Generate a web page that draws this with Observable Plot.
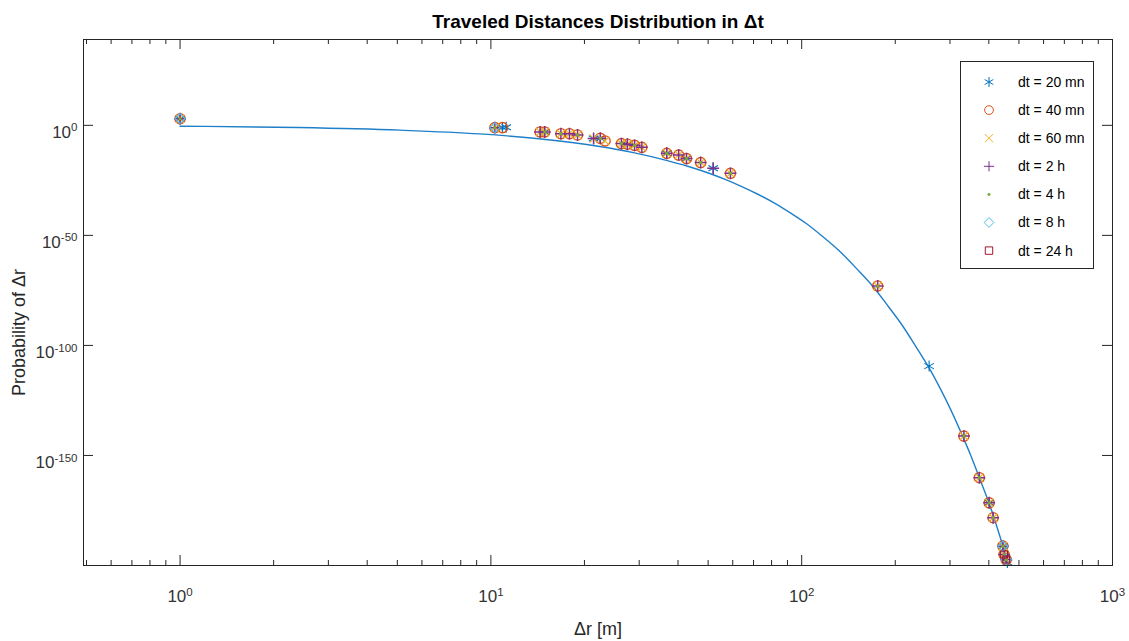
<!DOCTYPE html>
<html>
<head>
<meta charset="utf-8">
<script src="https://cdn.jsdelivr.net/npm/d3@7"></script>
<script src="https://cdn.jsdelivr.net/npm/@observablehq/plot@0.6"></script>
<style>
  html, body { margin: 0; padding: 0; background: #fff; }
  #chart { width: 1129px; height: 641px; }
</style>
</head>
<body>
<div id="chart"></div>
<script>
// ---------- data ----------
const titleText = "Traveled Distances Distribution in Δt";
const xLabel = "Δr [m]";
const yLabel = "Probability of Δr";

const xMajorTicks = [1, 10, 100, 1000];
const xMinorTicks = [0.5, 0.6, 0.7, 0.8, 0.9, 2, 3, 4, 5, 6, 7, 8, 9,
  20, 30, 40, 50, 60, 70, 80, 90, 200, 300, 400, 500, 600, 700, 800, 900];
const yTicks = [0, -50, -100, -150];   // exponents of 10

const seriesNames   = ["dt = 20 mn", "dt = 40 mn", "dt = 60 mn", "dt = 2 h", "dt = 4 h", "dt = 8 h", "dt = 24 h"];
const seriesColors  = ["#0072BD", "#D95319", "#EDB120", "#7E2F8E", "#77AC30", "#4DBEEE", "#A2142F"];
const seriesSymbols = ["asterisk", "circle", "times", "plus", "dot", "diamond2", "square2"];

// Δr [m] and log10(probability) for each series
const dt20mn_r    = [1, 10.9, 11.2, 14.9, 21.4, 22.5, 27.5, 36.8, 42.6, 51.9, 257, 401, 444, 459];
const dt20mn_logP = [3.0, -1.0, -0.9, -3.0, -6.0, -5.9, -8.6, -12.7, -15.1, -19.5, -109.4, -171.5, -191.2, -198.6];

const dt40mn_r    = [1, 10.3, 10.9, 14.4, 14.9, 16.8, 17.9, 19.0, 22.5, 23.3, 26.3, 27.5, 29.0, 30.6, 36.8, 40.2, 42.6, 47.3, 59.0, 175.6, 332.6, 372.9, 401, 413, 444, 448, 455];
const dt40mn_logP = [3.0, -1.05, -1.05, -3.0, -3.0, -3.8, -3.8, -4.4, -5.9, -7.1, -8.3, -8.6, -9.1, -10.0, -12.7, -13.5, -15.1, -16.9, -21.8, -73.0, -141.2, -160.1, -171.5, -178.3, -191.2, -195.0, -197.3];

const dt60mn_r    = [1, 10.3, 14.4, 14.9, 16.8, 17.9, 19.0, 21.4, 23.3, 26.3, 27.5, 29.0, 30.6, 36.8, 40.2, 42.6, 47.3, 59.0, 175.6, 332.6, 372.9, 401, 413, 444, 448, 455];
const dt60mn_logP = [3.0, -1.05, -3.0, -3.0, -3.8, -3.8, -4.4, -6.0, -7.1, -8.3, -8.6, -9.1, -10.0, -12.7, -13.5, -15.1, -16.9, -21.8, -73.0, -141.2, -160.1, -171.5, -178.3, -191.2, -195.0, -197.3];

const dt2h_r      = [1, 10.3, 14.4, 14.9, 16.8, 17.9, 19.0, 21.4, 22.5, 26.3, 27.5, 29.0, 30.6, 36.8, 40.2, 42.6, 47.3, 51.9, 59.0, 175.6, 332.6, 372.9, 401, 413, 444, 448, 455];
const dt2h_logP   = [3.0, -1.05, -3.0, -3.0, -3.8, -3.8, -4.4, -6.0, -5.9, -8.3, -8.6, -9.1, -10.0, -12.7, -13.5, -15.1, -16.9, -19.5, -21.8, -73.0, -141.2, -160.1, -171.5, -178.3, -191.2, -195.0, -197.3];

const dt4h_r      = [1, 10.3, 14.9, 16.8, 19.0, 22.5, 26.3, 29.0, 36.8, 42.6, 47.3, 59.0, 175.6, 332.6, 372.9, 401, 413, 444, 448, 455];
const dt4h_logP   = [3.0, -1.05, -3.0, -3.8, -4.4, -5.9, -8.3, -9.1, -12.7, -15.1, -16.9, -21.8, -73.0, -141.2, -160.1, -171.5, -178.3, -191.2, -195.0, -197.3];

const dt8h_r      = [1, 10.3, 444, 455];
const dt8h_logP   = [3.0, -1.05, -191.2, -197.3];

const dt24h_r     = [448, 455];
const dt24h_logP  = [-195.0, -197.3];

// fitted curve
const fit_r    = [1, 2.4, 5.1, 9.2, 14, 22.4, 29, 36.7, 43, 50.6, 57, 63.1, 72, 81.5, 92, 103.5, 117, 132.5, 150, 169.6, 190, 210, 233, 257, 280, 300, 332.6, 350, 372.9, 401, 425, 444, 463.5];
const fit_logP = [-0.4, -1.0, -2.2, -3.9, -6.0, -9.6, -12.5, -15.9, -18.6, -21.9, -24.7, -27.4, -31.2, -35.2, -39.8, -44.6, -50.6, -57.2, -65.0, -73.2, -82.3, -90.6, -100.5, -110.2, -120.0, -128.5, -142.6, -150.0, -160.1, -171.8, -182.5, -191.2, -199.6];

// ---------- build tables ----------
const seriesR    = [dt20mn_r, dt40mn_r, dt60mn_r, dt2h_r, dt4h_r, dt8h_r, dt24h_r];
const seriesLogP = [dt20mn_logP, dt40mn_logP, dt60mn_logP, dt2h_logP, dt4h_logP, dt8h_logP, dt24h_logP];
const seriesData = seriesR.map((rs, i) => rs.map((r, j) => ({r, logP: seriesLogP[i][j], series: seriesNames[i]})));
const fitData = fit_r.map((r, i) => ({r, logP: fit_logP[i]}));

const W = 1129, H = 641;
const mT = 39, mB = 76, mL = 83, mR = 17;
const pw = W - mL - mR, ph = H - mT - mB;
const axisColor = "#262626";
const font = "'Liberation Sans', Arial, sans-serif";

const symbolMarks = seriesData.map((d, i) => {
  const sym = seriesSymbols[i];
  if (sym === "dot") {
    return Plot.dot(d, {x: "r", y: "logP", r: 1.6, fill: seriesColors[i], stroke: "none"});
  }
  const rr = {asterisk: 5.2, circle: 5.1, times: 3.8, plus: 3.9, diamond2: 4.6, square2: 4.4}[sym];
  const sw = sym === "circle" ? 1.4 : sym === "plus" ? 1.5 : 1.1;
  return Plot.dot(d, {x: "r", y: "logP", symbol: sym, r: rr, stroke: seriesColors[i], strokeWidth: sw, fill: "none"});
});

const chart = Plot.plot({
  width: W, height: H,
  marginTop: mT, marginBottom: mB, marginLeft: mL, marginRight: mR,
  style: {fontFamily: font, background: "#fff"},
  x: {type: "log", domain: [0.489, 1000], axis: null},
  y: {type: "linear", domain: [-200, 39], axis: null},
  marks: [
    // fitted curve
    Plot.line(fitData, {x: "r", y: "logP", stroke: "#1f80c9", strokeWidth: 1.4, curve: "monotone-x", clip: true}),
    // data
    ...symbolMarks,
    // ticks (inside, MATLAB style, box on)
    Plot.ruleX(xMajorTicks, {x: d => d, insetTop: ph - 10, stroke: axisColor}),
    Plot.ruleX(xMajorTicks, {x: d => d, insetBottom: ph - 10, stroke: axisColor}),
    Plot.ruleX(xMinorTicks, {x: d => d, insetTop: ph - 5, stroke: axisColor}),
    Plot.ruleX(xMinorTicks, {x: d => d, insetBottom: ph - 5, stroke: axisColor}),
    Plot.ruleY(yTicks, {y: d => d, insetRight: pw - 10, stroke: axisColor}),
    Plot.ruleY(yTicks, {y: d => d, insetLeft: pw - 10, stroke: axisColor}),
    Plot.frame({stroke: axisColor, strokeWidth: 1}),
    // tick labels
    Plot.text(xMajorTicks, {x: d => d, frameAnchor: "bottom", dy: 31, text: d => "10^" + Math.round(Math.log10(d)),
      fontSize: 17, fill: "#333", textAnchor: "middle", lineAnchor: "middle", ariaDescription: "x-tick-labels"}),
    Plot.text(yTicks, {y: d => d, frameAnchor: "left", dx: -6, dy: 7, text: d => "10^" + d,
      fontSize: 17, fill: "#333", textAnchor: "end", lineAnchor: "middle", ariaDescription: "y-tick-labels"}),
    // titles
    Plot.text([titleText], {frameAnchor: "top", dy: -18, text: d => d, fontSize: 19, fontWeight: "bold",
      fill: "#000", textAnchor: "middle", lineAnchor: "middle"}),
    Plot.text([xLabel], {frameAnchor: "bottom", dy: 64, text: d => d, fontSize: 18, fill: "#262626",
      textAnchor: "middle", lineAnchor: "middle"}),
    Plot.text([yLabel], {frameAnchor: "left", dx: -64, dy: 30, rotate: -90, text: d => d, fontSize: 18,
      fill: "#262626", textAnchor: "middle", lineAnchor: "middle"})
  ]
});

// superscripts for tick labels
d3.select(chart).selectAll('g[aria-description="x-tick-labels"] text, g[aria-description="y-tick-labels"] text').each(function () {
  const t = this.textContent.split("^");
  if (t.length < 2) return;
  this.textContent = t[0];
  d3.select(this).append("tspan").attr("dy", "-0.55em").attr("font-size", "0.68em").text(t[1]);
});

// legend (MATLAB-style box, upper right)
const lg = d3.select(chart).append("g").attr("font-family", font).attr("font-size", 14).attr("text-anchor", "start");
lg.append("rect").attr("x", 960.5).attr("y", 61.5).attr("width", 133).attr("height", 207)
  .attr("fill", "#fff").attr("stroke", axisColor).attr("stroke-width", 1);
const symMap = {asterisk: d3.symbolAsterisk, circle: d3.symbolCircle, times: d3.symbolTimes, plus: d3.symbolPlus,
  dot: d3.symbolCircle, diamond2: d3.symbolDiamond2, square2: d3.symbolSquare2};
const symSize = {asterisk: 70, circle: 60, times: 45, plus: 36, dot: 7, diamond2: 60, square2: 70};
seriesNames.forEach((name, i) => {
  const cy = 82 + i * 28.1;
  const sym = seriesSymbols[i];
  const p = lg.append("path")
    .attr("transform", `translate(989,${cy})`)
    .attr("d", d3.symbol(symMap[sym], symSize[sym])());
  if (sym === "dot") p.attr("fill", seriesColors[i]).attr("stroke", "none");
  else p.attr("fill", "none").attr("stroke", seriesColors[i]).attr("stroke-width", 1);
  lg.append("text").attr("x", 1018).attr("y", cy).attr("dy", "0.35em").attr("fill", "#000").text(name);
});

document.getElementById("chart").appendChild(chart);
</script>
</body>
</html>
